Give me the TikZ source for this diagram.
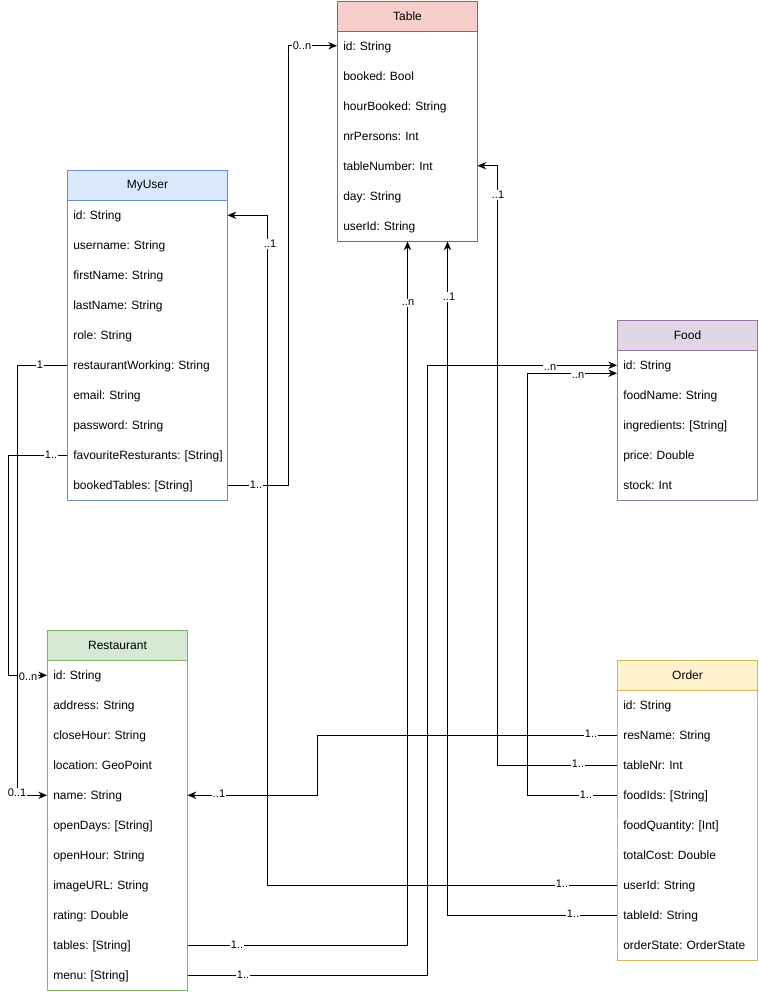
\documentclass[tikz,border=0pt]{standalone}
\usepackage{fontspec}
\setmainfont{Liberation Sans}
\usetikzlibrary{arrows.meta}
\definecolor{tfill}{HTML}{F8CECC}\definecolor{tline}{HTML}{B85450}
\definecolor{ufill}{HTML}{DAE8FC}\definecolor{uline}{HTML}{6C8EBF}
\definecolor{ffill}{HTML}{E1D5E7}\definecolor{fline}{HTML}{9673A6}
\definecolor{rfill}{HTML}{D5E8D4}\definecolor{rline}{HTML}{82B366}
\definecolor{ofill}{HTML}{FFF2CC}\definecolor{oline}{HTML}{D6B656}
\tikzset{
  classbox/.style={anchor=north west, draw, fill=white, inner sep=0pt, line width=0.75pt},
  hdr/.style={anchor=north west, draw, minimum height=22.5pt, inner sep=0pt, line width=0.75pt, font=\fontsize{9}{10}\selectfont\frenchspacing},
  field/.style={anchor=north west, minimum height=22.5pt, inner xsep=4.5pt, inner ysep=0pt, text height=7.6pt, text depth=0.9pt, align=left, font=\fontsize{9}{10}\selectfont\frenchspacing},
  conn/.style={draw=black, line width=0.75pt, -{Stealth[length=6.5pt,width=5.5pt,inset=2pt]}},
  lbl/.style={fill=white, inner sep=0.6pt, font=\fontsize{8.25}{9}\selectfont\frenchspacing}
}
\newcommand\umlclass[9]{%
  \pgfmathsetmacro\umltw{(#4-12)*0.75}%
  \node[classbox, draw=#7, minimum width=#4*0.75pt, minimum height=(30*#5+30)*0.75pt] (#1) at (#2,#3) {};
  \node[hdr, draw=#7, fill=#6, minimum width=#4*0.75pt] (#1-h) at (#2,#3) {#8};
  \foreach \k/\t [count=\i from 0] in {#9} {
    \node[field, text width=\umltw pt] (#1-\k) at (#2,#3+30+30*\i) {\mbox{\t}};
  }%
}
\begin{document}
\begin{tikzpicture}[x=0.75pt,y=-0.75pt]
\fill[white] (0,0) rectangle (758,992);
\useasboundingbox (0,0) rectangle (758,992);

\umlclass{t}{337}{0.5}{140}{7}{tfill}{tline}{Table}{id/{id: String},bk/{booked: Bool},hb/{hourBooked: String},np/{nrPersons: Int},tn/{tableNumber: Int},day/{day: String},uid/{userId: String}}

\umlclass{u}{67}{170}{160}{10}{ufill}{uline}{MyUser}{id/{id: String},un/{username: String},fn/{firstName: String},ln/{lastName: String},role/{role: String},rw/{restaurantWorking: String},em/{email: String},pw/{password: String},fav/{favouriteResturants: [String]},bt/{bookedTables: [String]}}

\umlclass{f}{617}{320}{140}{5}{ffill}{fline}{Food}{id/{id: String},fn/{foodName: String},ing/{ingredients: [String]},pr/{price: Double},st/{stock: Int}}

\umlclass{r}{47}{630}{140}{11}{rfill}{rline}{Restaurant}{id/{id: String},ad/{address: String},ch/{closeHour: String},loc/{location: GeoPoint},name/{name: String},od/{openDays: [String]},oh/{openHour: String},img/{imageURL: String},rat/{rating: Double},tab/{tables: [String]},menu/{menu: [String]}}

\umlclass{o}{617}{660}{140}{9}{ofill}{oline}{Order}{id/{id: String},rn/{resName: String},tnr/{tableNr: Int},fid/{foodIds: [String]},fq/{foodQuantity: [Int]},tc/{totalCost: Double},uid/{userId: String},tid/{tableId: String},os/{orderState: OrderState}}

% connectors
\draw[conn] (u-rw.west) -- ++(-50,0) |- (r-name.west);
\draw[conn] (u-fav.west) -- ++(-59,0) |- (r-id.west);
\draw[conn] (u-bt.east) -- ++(61,0) |- (t-id.west);
\draw[conn] (o-uid.west) -- ++(-350,0) |- (u-id.east);
\draw[conn] (o-tnr.west) -- ++(-120,0) |- (t-tn.east);
\draw[conn] (o-fid.west) -- ++(-90,0) |- ([yshift=-6pt]f-id.west);
\draw[conn] (o-rn.west) -- ++(-300,0) |- (r-name.east);
\draw[conn] (o-tid.west) -| ([xshift=30pt]t.south);
\draw[conn] (r-tab.east) -| (t.south);
\draw[conn] (r-menu.east) -- ++(240,0) |- (f-id.west);

% labels
\node[lbl] (l1) at (40,365) {1};
\node[lbl] (l2) at (17,793) {0..1};
\node[lbl] (l3) at (51,455) {1..};
\node[lbl] (l4) at (28,677) {0..n};
\node[lbl] (l5) at (256,485) {1..};
\node[lbl] (l6) at (302,46) {0..n};
\node[lbl] (l7) at (270,244) {..1};
\node[lbl] (l8) at (498,195) {..1};
\node[lbl] (l9) at (408,303) {..n};
\node[lbl] (l10) at (449,297) {..1};
\node[lbl] (l11) at (550,368) {..n};
\node[lbl] (l12) at (578,376) {..n};
\node[lbl] (l13) at (591,734) {1..};
\node[lbl] (l14) at (578,764) {1..};
\node[lbl] (l15) at (586,795) {1..};
\node[lbl] (l16) at (219,794) {..1};
\node[lbl] (l17) at (562,884) {1..};
\node[lbl] (l18) at (573,914) {1..};
\node[lbl] (l19) at (237,945) {1..};
\node[lbl] (l20) at (243,975) {1..};
\end{tikzpicture}
\end{document}
